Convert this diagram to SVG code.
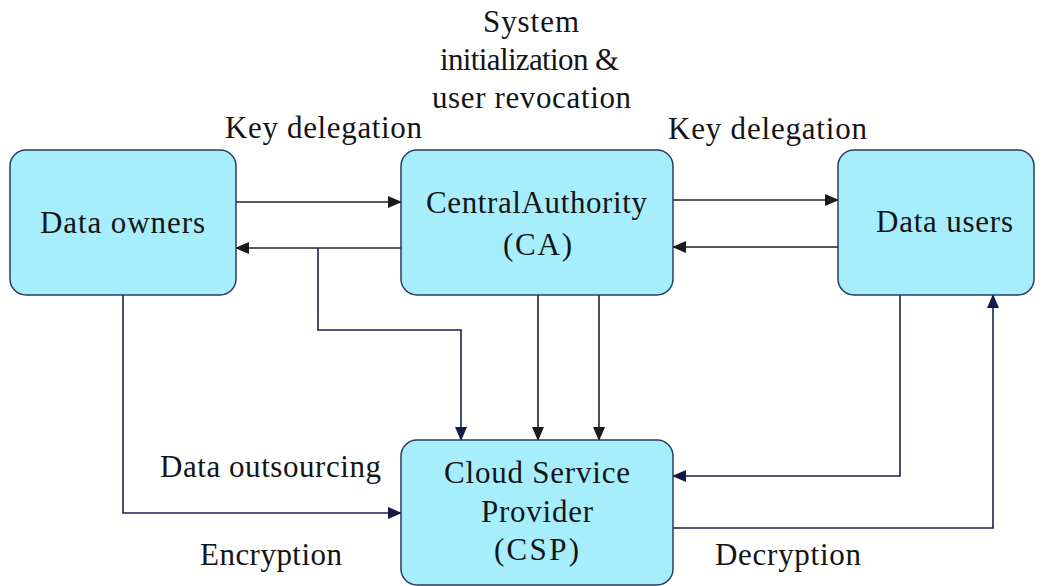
<svg xmlns="http://www.w3.org/2000/svg" width="1044" height="586" viewBox="0 0 1044 586">
<style>
.box{fill:#a6eefc;stroke:#2b3a5c;stroke-width:1.5}
.t{font-family:"Liberation Serif","Times New Roman",serif;font-size:31px;fill:#141414}
.l{fill:none;stroke:#222;stroke-width:1.6}
.n{fill:none;stroke:#1b2150;stroke-width:1.6}
</style>
<defs>
<marker id="ak" markerWidth="14" markerHeight="12" refX="13" refY="6" orient="auto" markerUnits="userSpaceOnUse"><path d="M0,0 L14,6 L0,12 Z" fill="#1a1a1a"/></marker>
<marker id="an" markerWidth="14" markerHeight="12" refX="13" refY="6" orient="auto" markerUnits="userSpaceOnUse"><path d="M0,0 L14,6 L0,12 Z" fill="#141a48"/></marker>
</defs>
<rect width="1044" height="586" fill="#fff"/>
<g id="labels">
<text class="t" x="483" y="32" textLength="96" lengthAdjust="spacing">System</text>
<text class="t" x="440" y="70" textLength="179" lengthAdjust="spacing">initialization &amp;</text>
<text class="t" x="432" y="108" textLength="199" lengthAdjust="spacing">user revocation</text>
<text class="t" x="225" y="138" textLength="197" lengthAdjust="spacing">Key delegation</text>
<text class="t" x="668" y="139" textLength="199" lengthAdjust="spacing">Key delegation</text>
<text class="t" x="160" y="477" textLength="221" lengthAdjust="spacing">Data outsourcing</text>
<text class="t" x="200" y="565" textLength="142" lengthAdjust="spacing">Encryption</text>
<text class="t" x="715" y="565" textLength="146" lengthAdjust="spacing">Decryption</text>
</g>
<g id="connectors">
<line class="l" x1="236" y1="202" x2="401" y2="202" marker-end="url(#ak)"/>
<line class="l" x1="401" y1="248" x2="236" y2="248" marker-end="url(#ak)"/>
<line class="l" x1="673" y1="200" x2="838" y2="200" marker-end="url(#ak)"/>
<line class="l" x1="838" y1="247" x2="673" y2="247" marker-end="url(#ak)"/>
<polyline class="n" points="318,248 318,330 461,330 461,440" marker-end="url(#an)"/>
<line class="l" x1="538" y1="295" x2="538" y2="440" marker-end="url(#ak)"/>
<line class="l" x1="599" y1="295" x2="599" y2="440" marker-end="url(#ak)"/>
<polyline class="n" points="900,295 900,476 673,476" marker-end="url(#an)"/>
<polyline class="n" points="673,528 993,528 993,295" marker-end="url(#an)"/>
<polyline class="n" points="123,295 123,513 401,513" marker-end="url(#an)"/>
</g>
<g id="data-owners">
<rect class="box" x="10" y="150" width="226" height="145" rx="16"/>
<text class="t" x="40" y="233" textLength="165" lengthAdjust="spacing">Data owners</text>
</g>
<g id="central-authority">
<rect class="box" x="401" y="150" width="272" height="145" rx="16"/>
<text class="t" x="426" y="213" textLength="221" lengthAdjust="spacing">CentralAuthority</text>
<text class="t" x="503" y="255" textLength="69" lengthAdjust="spacing">(CA)</text>
</g>
<g id="data-users">
<rect class="box" x="838" y="150" width="196" height="145" rx="16"/>
<text class="t" x="876" y="232" textLength="137" lengthAdjust="spacing">Data users</text>
</g>
<g id="csp">
<rect class="box" x="401" y="440" width="272" height="145" rx="16"/>
<text class="t" x="444" y="483" textLength="186" lengthAdjust="spacing">Cloud Service</text>
<text class="t" x="481" y="522" textLength="112" lengthAdjust="spacing">Provider</text>
<text class="t" x="494" y="560" textLength="85" lengthAdjust="spacing">(CSP)</text>
</g>
</svg>
